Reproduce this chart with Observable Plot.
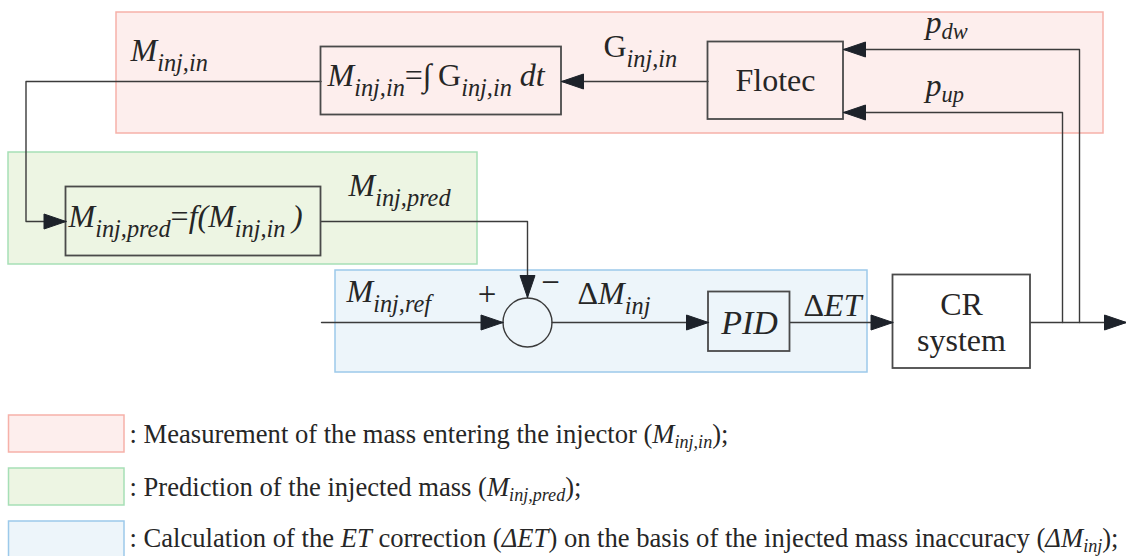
<!DOCTYPE html>
<html><head><meta charset="utf-8">
<script src="https://cdn.jsdelivr.net/npm/d3@7"></script>
<script src="https://cdn.jsdelivr.net/npm/@observablehq/plot@0.6"></script>
<style>
html,body{margin:0;padding:0;background:#fff}
svg{display:block}
svg text, svg tspan{font-family:"Liberation Serif","Times New Roman",serif !important}
</style>
</head><body><div id="chart"></div>
<script>
// ---- diagram content ----
const regionNames = ["measurement", "prediction", "correction"];
const regionFill = {measurement: "#fdeeed", prediction: "#edf5e3", correction: "#edf5fa"};
const regionStroke = {measurement: "#f6b1a9", prediction: "#a6dfb6", correction: "#9cc9ea"};
// region extents (pixels of the 1126x556 canvas)
const regionX1 = [116, 8, 335];
const regionX2 = [1103, 477, 867];
const regionY1 = [12, 152, 270];
const regionY2 = [133, 264, 372];

const blockNames = ["integrator", "predictor", "flotec", "pid", "cr"];
const blockX1 = [320.5, 65.5, 707.5, 708, 892.5];
const blockX2 = [561, 320.5, 843, 789.5, 1030];
const blockY1 = [46.5, 186.5, 41.5, 291.5, 274.5];
const blockY2 = [114.5, 255.5, 119, 351, 368];

const junctions = [{name: "sum", x: 527, y: 322, r: 24.5}];

const wires = [
  {name: "Minj,in feedback", arrow: true, points: [[320.5, 81], [25.5, 81], [25.5, 221], [65.5, 221]]},
  {name: "Ginj,in", arrow: true, points: [[707.5, 81], [561, 81]]},
  {name: "pdw", arrow: true, points: [[1079, 322], [1079, 49], [843, 49]]},
  {name: "pup", arrow: true, points: [[1062, 322], [1062, 112], [843, 112]]},
  {name: "Minj,pred", arrow: true, points: [[320.5, 221], [527, 221], [527, 297]]},
  {name: "Minj,ref", arrow: true, points: [[321, 322], [502.5, 322]]},
  {name: "dMinj", arrow: true, points: [[551.5, 322], [708, 322]]},
  {name: "dET", arrow: true, points: [[789.5, 322], [892.5, 322]]},
  {name: "out", arrow: true, points: [[1030, 322], [1126, 322]]}
];

// italic signal labels ("_{..}" subscript, "*..*" toggles italic)
const signalLabels = ["M_{inj,in}", "*G*_{inj,in}", "p_{dw}", "p_{up}", "M_{inj,pred}", "M_{inj,ref}", "*Δ*M_{inj}", "*Δ*ET"];
const signalX = [130, 603, 925, 925, 348, 346, 577, 803];
const signalY = [60, 56, 32, 95, 195, 301, 303, 315];

const formulaLabels = ["M_{inj,in}*=∫\u2009G*_{inj,in} dt", "M_{inj,pred}*=*f(M_{inj,in}\u2009)"];
const formulaX = [327, 68];
const formulaY = [85, 226];

const blockTitles = ["Flotec", "CR", "system"];
const blockTitleX = [775, 961, 961];
const blockTitleY = [90, 314, 350];

const signs = ["+", "−"];
const signX = [486.5, 550];
const signY = [304, 292.5];

const legendTexts = [
  ": Measurement of the mass entering the injector (*M_{inj,in}*);",
  ": Prediction of the injected mass (*M_{inj,pred}*);",
  ": Calculation of the *ET* correction (*ΔET*) on the basis of the injected mass inaccuracy (*ΔM_{inj}*);"
];
const legendY1 = [415, 468, 521];
const legendY2 = [452, 505, 557];
const legendTextY = [442, 495, 546];

// ---- build tables ----
const regions = regionNames.map((id, i) => ({id, x1: regionX1[i], x2: regionX2[i], y1: regionY1[i], y2: regionY2[i]}));
const blocks = blockNames.map((id, i) => ({id, x1: blockX1[i], x2: blockX2[i], y1: blockY1[i], y2: blockY2[i]}));
const wirePts = wires.flatMap(w => w.points.map(([x, y]) => ({id: w.name, x, y})));
const AL = 22, AW = 7.5;
const heads = wires.filter(w => w.arrow).flatMap(w => {
  const n = w.points.length;
  const [x1, y1] = w.points[n - 2], [x2, y2] = w.points[n - 1];
  const L = Math.hypot(x2 - x1, y2 - y1), ux = (x2 - x1) / L, uy = (y2 - y1) / L;
  const bx = x2 - ux * AL, by = y2 - uy * AL, px = -uy * AW, py = ux * AW;
  return [[x2, y2], [bx + px, by + py], [bx - px, by - py], [x2, y2]].map(([x, y]) => ({id: w.name, x, y}));
});
const signals = signalLabels.map((t, i) => ({t, x: signalX[i], y: signalY[i]}));
const formulas = formulaLabels.map((t, i) => ({t, x: formulaX[i], y: formulaY[i]}));
const titles = blockTitles.map((t, i) => ({t, x: blockTitleX[i], y: blockTitleY[i]}));
const signRows = signs.map((t, i) => ({t, x: signX[i], y: signY[i]}));
const legend = legendTexts.map((t, i) => ({id: regionNames[i], t, y1: legendY1[i], y2: legendY2[i], ty: legendTextY[i]}));

const serif = "'Liberation Serif', 'Times New Roman', serif";
const ink = "#262626";

const chart = Plot.plot({
  width: 1126, height: 556, margin: 0,
  x: {type: "identity", axis: null},
  y: {type: "identity", axis: null},
  style: {background: "#fff", fontFamily: serif},
  marks: [
    Plot.rect(regions, {x1: "x1", x2: "x2", y1: "y1", y2: "y2", fill: d => regionFill[d.id], stroke: d => regionStroke[d.id], strokeWidth: 1.5}),
    Plot.rect(legend, {x1: () => 8.5, x2: () => 124, y1: "y1", y2: "y2", fill: d => regionFill[d.id], stroke: d => regionStroke[d.id], strokeWidth: 1.5}),
    Plot.line(wirePts, {x: "x", y: "y", z: "id", stroke: "#3b3b3b", strokeWidth: 1.4, curve: "linear"}),
    Plot.rect(blocks, {x1: "x1", x2: "x2", y1: "y1", y2: "y2", fill: d => d.id === "cr" ? "#fff" : "none", stroke: "#4a4a4a", strokeWidth: 1.8}),
    Plot.dot(junctions, {x: "x", y: "y", r: junctions[0].r, stroke: "#3b3b3b", strokeWidth: 1.4, fill: "none"}),
    Plot.line(heads, {x: "x", y: "y", z: "id", fill: "#1d222a", stroke: "#1d222a", strokeWidth: 1, curve: "linear"}),
    Plot.text(signals, {x: "x", y: "y", text: "t", textAnchor: "start", lineAnchor: "bottom", fontSize: 32, fontStyle: "italic", fill: ink}),
    Plot.text(formulas, {x: "x", y: "y", text: "t", textAnchor: "start", lineAnchor: "bottom", fontSize: 32, fontStyle: "italic", fill: ink}),
    Plot.text(titles, {x: "x", y: "y", text: "t", textAnchor: "middle", lineAnchor: "bottom", fontSize: 32, fill: ink}),
    Plot.text([{t: "PID", x: 749, y: 333}], {x: "x", y: "y", text: "t", textAnchor: "middle", lineAnchor: "bottom", fontSize: 34, fontStyle: "italic", fill: ink}),
    Plot.text(signRows, {x: "x", y: "y", text: "t", textAnchor: "middle", lineAnchor: "bottom", fontSize: 33, fill: ink}),
    Plot.text(legend, {x: () => 129, y: "ty", text: "t", textAnchor: "start", lineAnchor: "bottom", fontSize: 26.6, fill: ink})
  ]
});
document.getElementById("chart").appendChild(chart);

// ---- rich text: subscripts and italic toggles ----
function enrich(el) {
  const s = el.textContent;
  if (!/[_*]/.test(s)) return;
  const cs = getComputedStyle(el);
  const fs = parseFloat(cs.fontSize);
  let italic = cs.fontStyle === "italic";
  let shiftK = 0.34, sizeK = 0.76;
  if (s.startsWith("p_")) { shiftK = 0.2; sizeK = 0.7; }
  else if (fs < 28) { shiftK = 0.2; sizeK = 0.68; }
  const shift = shiftK * fs, subSize = sizeK * fs;
  const segs = [];
  let buf = "";
  const flush = () => { if (buf) segs.push({text: buf, italic, sub: false}); buf = ""; };
  for (let i = 0; i < s.length; i++) {
    const c = s[i];
    if (c === "*") { flush(); italic = !italic; }
    else if (c === "_" && s[i + 1] === "{") {
      flush();
      const j = s.indexOf("}", i);
      segs.push({text: s.slice(i + 2, j), italic, sub: true});
      i = j;
    } else buf += c;
  }
  flush();
  el.textContent = "";
  let off = 0;
  for (const g of segs) {
    const t = document.createElementNS("http://www.w3.org/2000/svg", "tspan");
    t.textContent = g.text;
    t.setAttribute("font-style", g.italic ? "italic" : "normal");
    const target = g.sub ? shift : 0;
    if (target !== off) { t.setAttribute("dy", target - off); off = target; }
    if (g.sub) t.setAttribute("font-size", subSize);
    el.appendChild(t);
  }
}
chart.querySelectorAll("text").forEach(enrich);
</script>
</body></html>
